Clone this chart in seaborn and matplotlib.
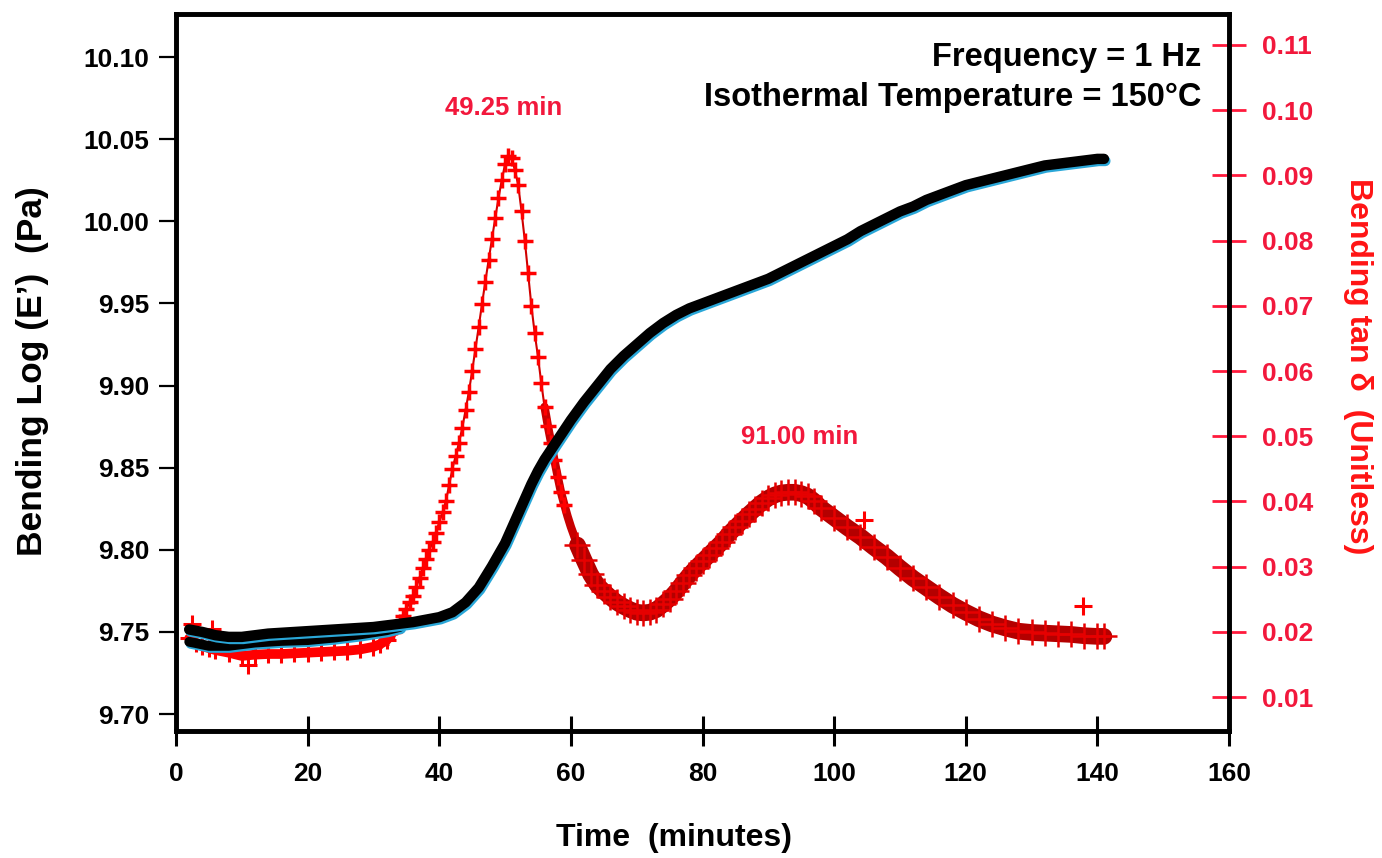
import numpy as np
import pandas as pd
import matplotlib
matplotlib.use("Agg")
import matplotlib.pyplot as plt
import matplotlib.patheffects as pe
import seaborn as sns

# ---------------- data ----------------
time_e = [2, 4, 6, 8, 10, 12, 14, 16, 18, 20, 22, 24, 26, 28, 30, 32, 34, 36, 38, 40,
          42, 44, 46, 48, 50, 51, 52, 53, 54, 55, 56, 58, 60, 62, 64, 66, 68, 70, 72, 74,
          76, 78, 80, 82, 84, 86, 88, 90, 92, 94, 96, 98, 100, 102, 104, 106, 108, 110,
          112, 114, 116, 118, 120, 122, 124, 126, 128, 130, 132, 134, 136, 138, 140, 141]
log_e = [9.7515, 9.750, 9.748, 9.747, 9.747, 9.748, 9.749, 9.7495, 9.750, 9.7505, 9.751,
         9.7515, 9.752, 9.7525, 9.753, 9.754, 9.755, 9.756, 9.7575, 9.759,
         9.762, 9.768, 9.777, 9.790, 9.804, 9.813, 9.822, 9.831, 9.840, 9.848, 9.855,
         9.867, 9.879, 9.890, 9.900, 9.910, 9.918, 9.925, 9.932, 9.938,
         9.943, 9.947, 9.950, 9.953, 9.956, 9.959, 9.962, 9.965, 9.969, 9.973, 9.977,
         9.981, 9.985, 9.989, 9.994, 9.998, 10.002, 10.006,
         10.009, 10.013, 10.016, 10.019, 10.022, 10.024, 10.026, 10.028, 10.030, 10.032,
         10.034, 10.035, 10.036, 10.037, 10.038, 10.038]

# second (lower) pass of the modulus trace at the start of the run
time_loop = [2, 3, 5, 8, 12, 16, 20, 24, 28, 32, 34]
log_e_loop = [9.7440, 9.7432, 9.7415, 9.7415, 9.7435, 9.7445, 9.745, 9.7465, 9.7485, 9.751, 9.753]

time_tan = [2, 3, 4, 5, 6, 8, 10, 12, 14, 16, 18, 20, 22, 24, 26, 28, 30, 31, 32,
            33.0, 33.5, 34.0, 34.5, 35.0, 35.5, 36.0, 36.5, 37.0, 37.5, 38.0, 38.5,
            39.0, 39.5, 40.0, 40.5, 41.0, 41.5, 42.0, 42.5, 43.0, 43.5, 44.0, 44.5,
            45.0, 45.5, 46.0, 46.5, 47.0, 47.5, 48.0, 48.5, 49.0, 49.5, 50.0, 50.5,
            51.0, 51.5, 52.0, 52.5, 53.0, 53.5, 54.0, 54.5, 55.0, 55.5, 56.0, 56.5,
            57.0, 57.5, 58.0, 58.5, 59.0, 59.5, 60.0,
            61, 62, 63, 64, 65, 66, 67, 68, 69, 70, 71, 72, 73, 74, 75, 76, 77, 78, 79,
            80, 81, 82, 83, 84, 85, 86, 87, 88, 89, 90, 91, 92, 93, 94, 95, 96, 97, 98,
            100, 102, 104, 106, 108, 110, 112, 114, 116, 118, 120, 122, 124, 126, 128,
            130, 132, 134, 136, 138, 140, 141]
tan_delta = [0.0190, 0.0183, 0.0178, 0.0175, 0.0172, 0.0168, 0.0163, 0.0165, 0.0166,
             0.0166, 0.0167, 0.0168, 0.0169, 0.0170, 0.0171, 0.0173, 0.0177, 0.0181, 0.0187,
             0.0200, 0.0207, 0.0215, 0.0224, 0.0235, 0.0245, 0.0255, 0.0268, 0.0283, 0.0298,
             0.0312, 0.0325,
             0.0338, 0.0352, 0.0368, 0.0383, 0.0400, 0.0425, 0.0450, 0.0470, 0.0490, 0.0513,
             0.0540, 0.0568,
             0.0600, 0.0634, 0.0668, 0.0703, 0.0737, 0.0770, 0.0802, 0.0834, 0.0865, 0.0893,
             0.0917, 0.0930,
             0.0926, 0.0908, 0.0885, 0.0845, 0.0800, 0.0750, 0.0700, 0.0658, 0.0622, 0.0582,
             0.0545, 0.0516,
             0.0490, 0.0463, 0.0438, 0.0414, 0.0395, 0.0377, 0.0361,
             0.0333, 0.0310, 0.0288, 0.0272, 0.0262, 0.0253, 0.0245, 0.0239, 0.0234, 0.0230,
             0.0229, 0.0230, 0.0234, 0.0242, 0.0251, 0.0262, 0.0275, 0.0287, 0.0298,
             0.0308, 0.0318, 0.0328, 0.0338, 0.0350, 0.0360, 0.0370, 0.0380, 0.0389, 0.0398,
             0.0405, 0.0410, 0.0413, 0.0414, 0.0414, 0.0412, 0.0408, 0.0400, 0.0390,
             0.0375, 0.0360, 0.0346, 0.0330, 0.0315, 0.0298, 0.0282, 0.0268, 0.0254, 0.0241,
             0.0230, 0.0220, 0.0212, 0.0206, 0.0201,
             0.0199, 0.0198, 0.0197, 0.0196, 0.0194, 0.0193, 0.0193]

# isolated outlying tan-delta points
time_spike = [2.5, 5.5, 10.9, 104.6, 137.8]
tan_spike = [0.0212, 0.0205, 0.0149, 0.0372, 0.0240]

x_ticks = [0, 20, 40, 60, 80, 100, 120, 140, 160]
left_ticks = [9.70, 9.75, 9.80, 9.85, 9.90, 9.95, 10.00, 10.05, 10.10]
right_ticks = [0.01, 0.02, 0.03, 0.04, 0.05, 0.06, 0.07, 0.08, 0.09, 0.10, 0.11]

peak_times = [49.8, 94.8]
peak_label_levels = [0.1003, 0.0499]
peak_labels = ["49.25 min", "91.00 min"]
info_lines = ["Frequency = 1 Hz", "Isothermal Temperature = 150°C"]

# ---------------- style ----------------
sns.set_theme(style="white")
plt.rcParams["font.family"] = ["Liberation Sans", "DejaVu Sans"]
plt.rcParams["font.weight"] = "bold"
for k in ("text.color", "axes.labelcolor", "xtick.color", "ytick.color",
          "xtick.labelcolor", "ytick.labelcolor"):
    plt.rcParams[k] = "black"

RED_TXT = "#f2183c"
RED_LBL = "#ff1414"

fig = plt.figure(figsize=(13.82, 8.58), dpi=100)
W, H = 1382, 858
ax = fig.add_axes([176 / W, 1 - 731 / H, (1229 - 176) / W, (731 - 14) / H])
ax2 = ax.twinx()
ax.set_zorder(2)
ax.patch.set_visible(False)
ax2.set_zorder(1)

df_tan = pd.DataFrame({"t": time_tan, "tan": tan_delta})
early = df_tan[df_tan.t <= 33]
peak = df_tan[(df_tan.t >= 33) & (df_tan.t <= 59)]
mid = df_tan[(df_tan.t >= 56) & (df_tan.t <= 64)]
late = df_tan[df_tan.t >= 61]

sns.lineplot(data=early, x="t", y="tan", ax=ax2, sort=False, estimator=None,
             color="#ff0000", lw=7, marker="+", ms=13, mew=2.2, mec="#ff0000",
             solid_capstyle="round")
sns.lineplot(data=mid, x="t", y="tan", ax=ax2, sort=False, estimator=None,
             color="#c80000", lw=6, solid_capstyle="round")
sns.lineplot(data=late, x="t", y="tan", ax=ax2, sort=False, estimator=None,
             color="#b40000", lw=12, marker="+", ms=19, mew=1.8, mec="#e60000",
             solid_capstyle="round")
sns.lineplot(data=peak, x="t", y="tan", ax=ax2, sort=False, estimator=None,
             color="#d00000", lw=1.5, marker="+", ms=12, mew=2.5, mec="#ff0000")
sns.scatterplot(x=time_spike, y=tan_spike, ax=ax2, marker="+", s=160,
                color="#ff0000", linewidth=2.2)

shadow = [pe.SimpleLineShadow(offset=(1.0, -1.5), shadow_color="#2aa7d8", alpha=1.0),
          pe.Normal()]
sns.lineplot(x=time_loop, y=log_e_loop, ax=ax, sort=False, estimator=None,
             color="black", lw=7, path_effects=shadow)
sns.lineplot(x=time_e, y=log_e, ax=ax, sort=False, estimator=None,
             color="black", lw=7.5, path_effects=shadow)

# ---------------- axes ----------------
ax.set_xlim(0, 160)
ax.set_ylim(9.6897, 10.1262)
ax2.set_ylim(0.00479, 0.11475)
ax.set_xticks(x_ticks)
ax.set_xticklabels([str(v) for v in x_ticks])
ax.set_yticks(left_ticks)
ax.set_yticklabels([f"{v:.2f}" for v in left_ticks])
ax2.set_yticks(right_ticks)
ax2.set_yticklabels([f"{v:.2f}" for v in right_ticks])

for a in (ax, ax2):
    for s in a.spines.values():
        s.set_visible(True)
        s.set_color("black")
        s.set_linewidth(3.3)

ax.tick_params(axis="x", direction="inout", length=22, width=2.2, color="black",
               pad=11, labelsize=19, labelcolor="black", bottom=True)
ax.tick_params(axis="y", direction="out", length=12, width=1.6, color="black",
               pad=7, labelsize=19, labelcolor="black", left=True, right=False)
ax2.tick_params(axis="y", direction="inout", length=24, width=2.0, color="#ff1a3c",
                pad=12, labelsize=19, labelcolor=RED_TXT, right=True)
for lab in ax.get_xticklabels() + ax.get_yticklabels() + ax2.get_yticklabels():
    lab.set_fontweight("bold")

ax.set_xlabel("Time  (minutes)", fontsize=23, fontweight="bold", color="black")
ax.xaxis.set_label_coords(0.473, -0.149)
ax.xaxis.label.set_va("center")
ax.set_ylabel("Bending Log (E’)  (Pa)", fontsize=25.5, fontweight="bold", color="black")
ax.yaxis.set_label_coords(-0.136, 0.502)
ax.yaxis.label.set_va("center")
ax2.set_ylabel("Bending tan δ  (Unitless)", fontsize=23, fontweight="bold",
               color=RED_LBL, rotation=270)
ax2.yaxis.set_label_coords(1.1225, 0.509)
ax2.yaxis.label.set_va("center")

for tx, ty, s in zip(peak_times, peak_label_levels, peak_labels):
    ax2.text(tx, ty, s, color=RED_TXT, fontsize=18.5, fontweight="bold",
             ha="center", va="center", zorder=5)

ax.text(0.974, 0.940, info_lines[0], transform=ax.transAxes, ha="right", va="center",
        fontsize=23.5, fontweight="bold", color="black")
ax.text(0.974, 0.884, info_lines[1], transform=ax.transAxes, ha="right", va="center",
        fontsize=23.5, fontweight="bold", color="black")

fig.savefig("out.png", dpi=100, facecolor="white")
